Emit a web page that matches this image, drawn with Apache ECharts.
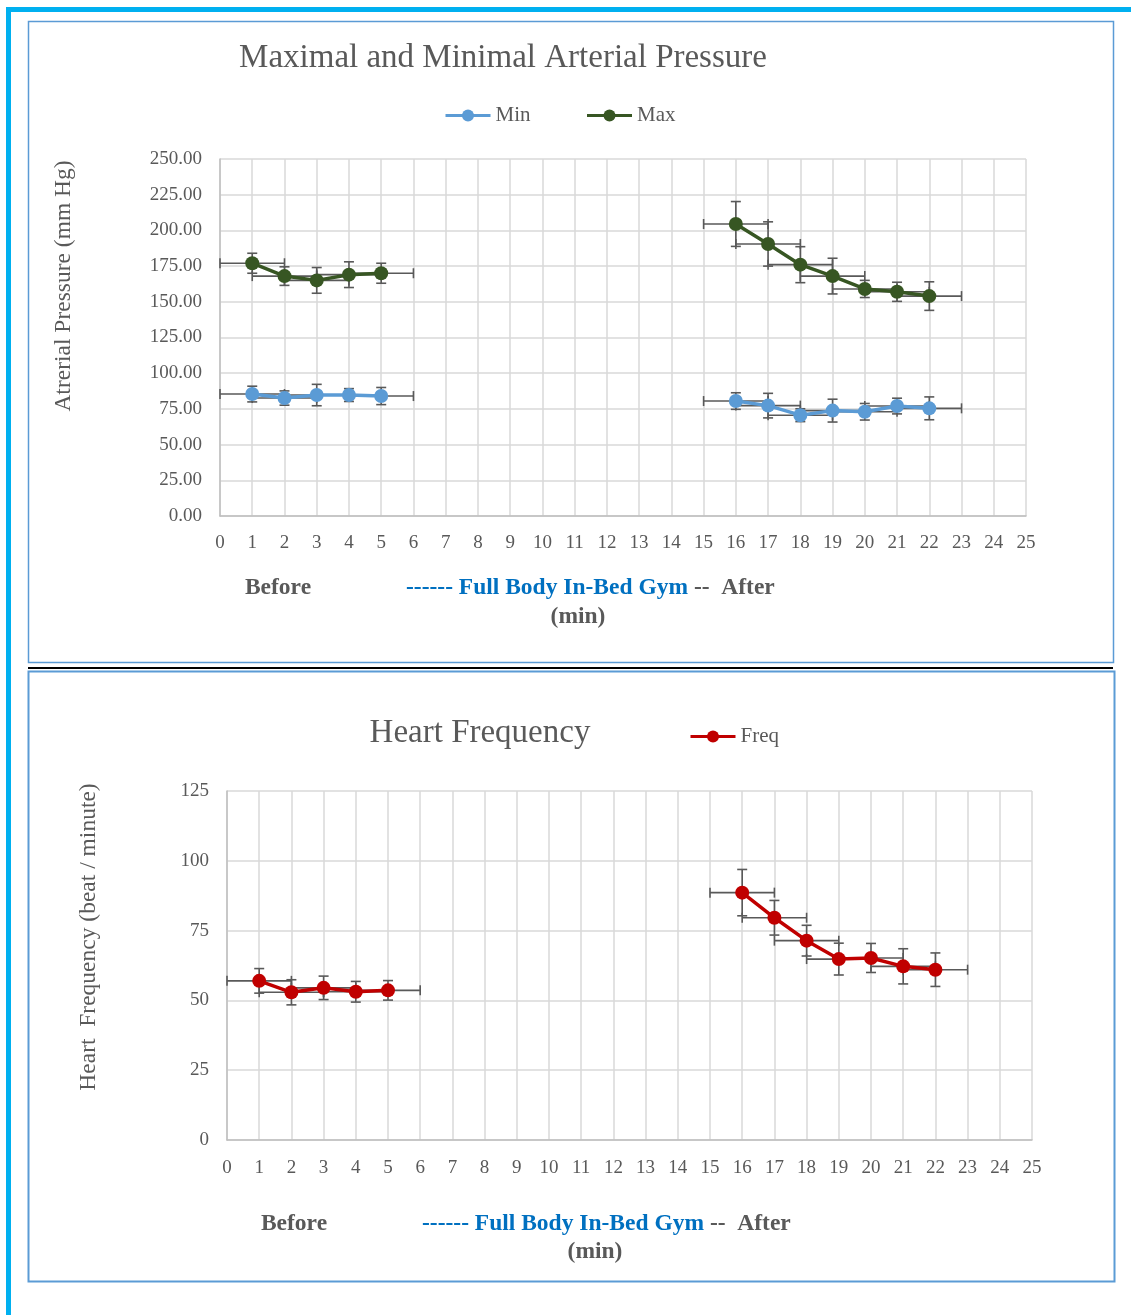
<!DOCTYPE html>
<html>
<head>
<meta charset="utf-8">
<script src="https://cdn.jsdelivr.net/npm/echarts@6/dist/echarts.min.js"></script>
<style>
html,body{margin:0;padding:0;background:#fff;}
#c{position:absolute;left:0;top:0;width:1131px;height:1315px;}
</style>
</head>
<body>
<div id="c"></div>
<script>
// ---------- data ----------
const xBefore = [1, 2, 3, 4, 5];
const xAfter = [16, 17, 18, 19, 20, 21, 22];

const minBefore = [85.4, 82.6, 84.7, 84.7, 84.0];
const minBeforeErr = [5.5, 5.0, 7.5, 4.5, 6.0];
const minAfter = [80.5, 77.3, 70.6, 73.8, 73.0, 77.0, 75.4];
const minAfterErr = [5.8, 8.6, 4.5, 8.0, 5.8, 5.5, 8.0];

const maxBefore = [177, 168, 165, 169, 170];
const maxBeforeErr = [7, 6.5, 9, 9, 7];
const maxAfter = [204.5, 190.5, 176, 168, 159, 157, 154];
const maxAfterErr = [15.7, 15.5, 12.6, 12.5, 6, 6.7, 10];

const freqBefore = [57.0, 52.9, 54.5, 53.1, 53.6];
const freqBeforeErr = [4.4, 4.5, 4.2, 3.7, 3.5];
const freqAfter = [88.6, 79.6, 71.4, 64.8, 65.2, 62.2, 61.0];
const freqAfterErr = [8.3, 6.2, 5.5, 5.7, 5.2, 6.3, 6.0];

const xErr = 1;
const xTicks = {min: 0, max: 25, interval: 1};
const yTop = {min: 0, max: 250, interval: 25};
const yBottom = {min: 0, max: 125, interval: 25};

// ---------- helpers ----------
const FONT = '"Liberation Serif", "Times New Roman", serif';
const GRAY = '#595959';
function pairs(xs, ys){ return xs.map((x,i)=>[x, ys[i]]); }
function triples(xs, ys, es){ return xs.map((x,i)=>[x, ys[i], es[i]]); }

function errRender(params, api){
  const x = api.value(0), y = api.value(1), e = api.value(2);
  const top = api.coord([x, y + e]);
  const bot = api.coord([x, y - e]);
  const l = api.coord([x - xErr, y]);
  const r = api.coord([x + xErr, y]);
  const cap = 5;
  const st = {stroke: '#595959', lineWidth: 1.6};
  const ln = (x1,y1,x2,y2)=>({type:'line', shape:{x1,y1,x2,y2}, style: st});
  return {type:'group', children:[
    ln(top[0], top[1], bot[0], bot[1]),
    ln(top[0]-cap, top[1], top[0]+cap, top[1]),
    ln(bot[0]-cap, bot[1], bot[0]+cap, bot[1]),
    ln(l[0], l[1], r[0], r[1]),
    ln(l[0], l[1]-cap, l[0], l[1]+cap),
    ln(r[0], r[1]-cap, r[0], r[1]+cap)
  ]};
}
function errSeries(data, idx){
  return {type:'custom', renderItem: errRender, data: data, xAxisIndex: idx, yAxisIndex: idx, z: 1, silent: true, encode:{x:0, y:1}};
}
function lineSeries(name, data, color, idx){
  return {type:'line', name, data, xAxisIndex: idx, yAxisIndex: idx, z: 3,
    symbol:'circle', symbolSize: 14, itemStyle:{color},
    lineStyle:{color, width: 3.5}, animation:false};
}
function xAxisCfg(idx, margin){
  return {type:'value', gridIndex: idx, min: xTicks.min, max: xTicks.max, interval: xTicks.interval,
    axisLine:{show:true, lineStyle:{color:'#bfbfbf', width:1.5}}, axisTick:{show:false},
    axisLabel:{color: GRAY, fontFamily: FONT, fontSize: 19, margin: margin},
    splitLine:{show:true, lineStyle:{color:'#d9d9d9', width:1.5}}};
}
function yAxisCfg(idx, cfg, fmt){
  return {type:'value', gridIndex: idx, min: cfg.min, max: cfg.max, interval: cfg.interval,
    axisLine:{show:true, lineStyle:{color:'#bfbfbf', width:1.5}}, axisTick:{show:false},
    axisLabel:{color: GRAY, fontFamily: FONT, fontSize: 19, margin: 18, formatter: fmt},
    splitLine:{show:true, lineStyle:{color:'#d9d9d9', width:1.5}}};
}
function txt(x, y, text, size, opts){
  return Object.assign({type:'text', x, y, style:Object.assign({text, fill: GRAY, font: size + 'px ' + FONT, align:'center', verticalAlign:'middle'}, opts && opts.style)}, opts && opts.el);
}
const CAP_FONT = 'bold 23.5px ' + FONT;
function richLabel(x, y){
  return {type:'text', x, y, style:{
    text: '{b|------ Full Body In-Bed Gym}{g| --  After}',
    align:'left', verticalAlign:'middle',
    rich:{
      b:{fill:'#0070C0', font: CAP_FONT},
      g:{fill:GRAY, font: CAP_FONT}
    }}};
}
const legendCommon = {itemWidth: 45, itemHeight: 15,
  lineStyle:{width: 3},
  textStyle:{color: GRAY, fontFamily: FONT, fontSize: 21}};

const chart = echarts.init(document.getElementById('c'), null, {renderer:'canvas'});
chart.setOption({
  animation: false,
  backgroundColor: '#ffffff',
  grid: [
    {left: 220, top: 159, width: 806, height: 357},
    {left: 227, top: 791, width: 805, height: 349}
  ],
  xAxis: [xAxisCfg(0, 18), xAxisCfg(1, 19)],
  yAxis: [yAxisCfg(0, yTop, v => v.toFixed(2)), yAxisCfg(1, yBottom, v => String(v))],
  legend: [
    Object.assign({data:['Min','Max'], left: 439, top: 100, itemGap: 55}, legendCommon),
    Object.assign({data:['Freq'], left: 684, top: 721}, legendCommon)
  ],
  series: [
    errSeries(triples(xBefore, minBefore, minBeforeErr), 0),
    errSeries(triples(xAfter, minAfter, minAfterErr), 0),
    errSeries(triples(xBefore, maxBefore, maxBeforeErr), 0),
    errSeries(triples(xAfter, maxAfter, maxAfterErr), 0),
    lineSeries('Min', pairs(xBefore, minBefore), '#5B9BD5', 0),
    lineSeries('Min', pairs(xAfter, minAfter), '#5B9BD5', 0),
    lineSeries('Max', pairs(xBefore, maxBefore), '#375623', 0),
    lineSeries('Max', pairs(xAfter, maxAfter), '#375623', 0),
    errSeries(triples(xBefore, freqBefore, freqBeforeErr), 1),
    errSeries(triples(xAfter, freqAfter, freqAfterErr), 1),
    lineSeries('Freq', pairs(xBefore, freqBefore), '#C00000', 1),
    lineSeries('Freq', pairs(xAfter, freqAfter), '#C00000', 1)
  ],
  graphic: [
    // outer cyan frame
    {type:'rect', shape:{x:6, y:7, width:1125, height:5}, style:{fill:'#00B0F0'}, z:-1},
    {type:'rect', shape:{x:6, y:7, width:5, height:1308}, style:{fill:'#00B0F0'}, z:-1},
    // chart boxes
    {type:'rect', shape:{x:28.5, y:21.5, width:1085, height:641}, style:{fill:'none', stroke:'#5B9BD5', lineWidth:1.5}, z:-1},
    {type:'rect', shape:{x:28, y:667, width:1085, height:2}, style:{fill:'#000'}, z:-1},
    {type:'rect', shape:{x:28.5, y:671.5, width:1086, height:610}, style:{fill:'none', stroke:'#5B9BD5', lineWidth:2}, z:-1},
    // titles
    txt(503, 58, 'Maximal and Minimal Arterial Pressure', 33),
    txt(480, 733, 'Heart Frequency', 33),
    // y axis names
    txt(64, 286, 'Atrerial Pressure (mm Hg)', 23.5, {el:{rotation: Math.PI/2}}),
    txt(89, 937, 'Heart  Frequency (beat / minute)', 23.5, {el:{rotation: Math.PI/2}}),
    // x axis captions
    txt(278, 588, 'Before', 23.5, {style:{font: CAP_FONT}}),
    richLabel(406, 588),
    txt(578, 617, '(min)', 23.5, {style:{font: CAP_FONT}}),
    txt(294, 1224, 'Before', 23.5, {style:{font: CAP_FONT}}),
    richLabel(422, 1224),
    txt(595, 1252, '(min)', 23.5, {style:{font: CAP_FONT}})
  ]
});
</script>
</body>
</html>
